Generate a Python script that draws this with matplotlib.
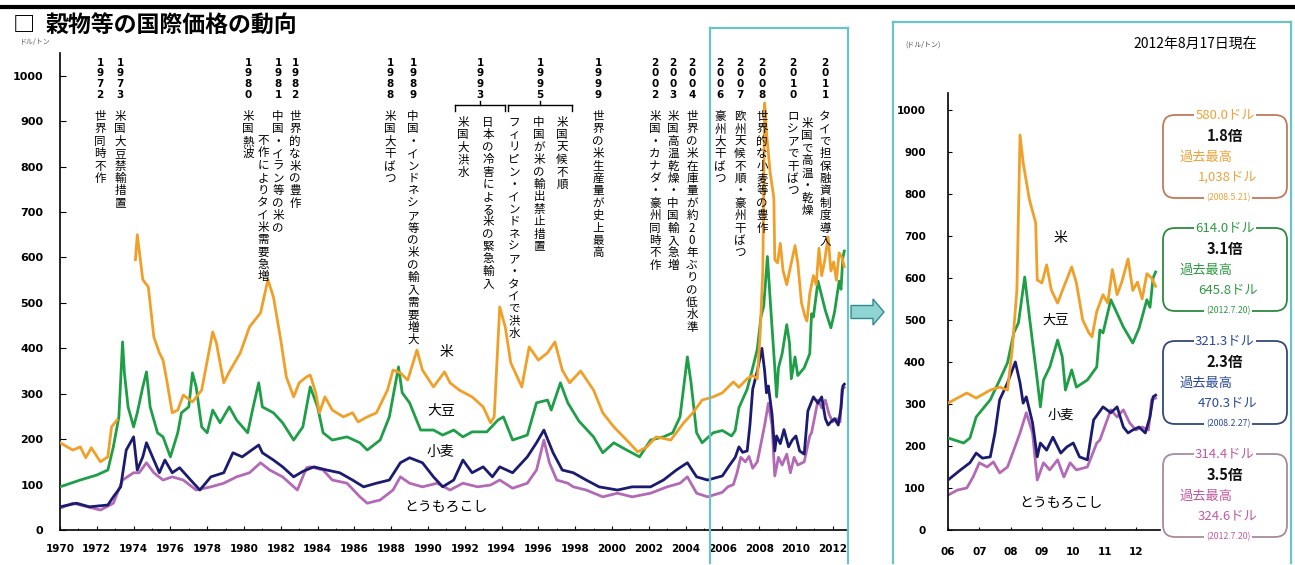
import numpy as np
import matplotlib
matplotlib.use('Agg')
import matplotlib.pyplot as plt
from matplotlib.patches import FancyBboxPatch, FancyArrow
from matplotlib.lines import Line2D
from matplotlib.transforms import IdentityTransform

plt.rcParams['font.family'] = ['Noto Sans CJK JP', 'DejaVu Sans']

# ---- data (US$/ton) ----
rice_year = [1970.0, 1970.7, 1971.1, 1971.4, 1971.7, 1972.2, 1972.6, 1972.8, 1973.1, 1973.6,
             1974.1, 1974.2, 1974.5, 1974.8, 1975.1, 1975.4, 1975.6, 1975.8, 1976.1, 1976.4,
             1976.7, 1977.2, 1977.7, 1978.3, 1978.5, 1978.9, 1979.2, 1979.8, 1980.3, 1980.9,
             1981.3, 1981.6, 1982.0, 1982.3, 1982.7, 1983.0, 1983.4, 1983.6, 1983.9, 1984.1,
             1984.4, 1984.8, 1985.4, 1985.9, 1986.2, 1986.7, 1987.2, 1987.8, 1988.1, 1988.5,
             1988.9, 1989.4, 1989.7, 1990.3, 1990.9, 1991.2, 1991.7, 1992.4, 1993.0, 1993.4,
             1993.6, 1993.9, 1994.2, 1994.5, 1995.1, 1995.5, 1996.0, 1996.5, 1996.9, 1997.3,
             1997.7, 1998.3, 1999.0, 1999.5, 2000.1, 2000.8, 2001.4, 2001.9, 2002.4, 2003.2,
             2003.9, 2004.4, 2004.9, 2005.5, 2006.0, 2006.6, 2006.9, 2007.35, 2007.65, 2007.9,
             2008.05, 2008.2, 2008.3, 2008.4, 2008.6, 2008.8, 2008.85, 2009.0, 2009.15, 2009.3,
             2009.5, 2009.7, 2009.95, 2010.1, 2010.3, 2010.5, 2010.6, 2010.75, 2010.95, 2011.1,
             2011.25, 2011.4, 2011.55, 2011.75, 2011.9, 2012.05, 2012.2, 2012.35, 2012.5, 2012.63]
rice_usd = [192, 176, 183, 159, 181, 150, 161, 227, 242, np.nan,
            595, 650, 551, 535, 425, 390, 374, 330, 258, 264,
            297, 282, 308, 436, 412, 324, 348, 390, 447, 478,
            551, 513, 418, 337, 293, 324, 337, 341, 302, 258,
            293, 264, 249, 258, 238, 249, 258, 308, 352, 346,
            330, 396, 352, 315, 348, 324, 308, 293, 271, 236,
            249, 491, 447, 368, 315, 403, 374, 390, 414, 352,
            324, 350, 308, 258, 227, 198, 172, 183, 205, 198,
            236, 258, 286, 293, 302, 326, 314, 333, 340, 333,
            429, 571, 940, 874, 786, 731, 595, 588, 631, 571,
            540, 579, 626, 588, 500, 469, 460, 520, 560, 540,
            620, 560, 590, 645, 570, 590, 550, 610, 600, 580]

soy_year = [1970.0, 1971.1, 1972.0, 1972.6, 1972.9, 1973.2, 1973.4, 1973.5, 1973.7, 1974.0,
            1974.2, 1974.5, 1974.7, 1974.9, 1975.3, 1975.6, 1976.0, 1976.4, 1976.6, 1977.0,
            1977.2, 1977.4, 1977.7, 1978.0, 1978.3, 1978.7, 1979.2, 1979.6, 1980.2, 1980.5,
            1980.8, 1981.0, 1981.6, 1982.1, 1982.7, 1983.2, 1983.6, 1984.0, 1984.3, 1984.8,
            1985.6, 1986.3, 1986.7, 1987.4, 1987.9, 1988.4, 1988.6, 1989.0, 1989.6, 1990.3,
            1990.8, 1991.4, 1991.9, 1992.4, 1993.2, 1993.8, 1994.1, 1994.6, 1995.4, 1995.9,
            1996.5, 1996.7, 1997.2, 1997.6, 1998.2, 1999.0, 1999.5, 2000.1, 2000.8, 2001.5,
            2002.1, 2002.8, 2003.3, 2003.7, 2004.1, 2004.3, 2004.6, 2004.9, 2005.5, 2006.0,
            2006.5, 2006.7, 2006.9, 2007.35, 2007.65, 2007.9, 2008.1, 2008.25, 2008.45, 2008.6,
            2008.85, 2008.95, 2009.05, 2009.25, 2009.5, 2009.65, 2009.75, 2009.95, 2010.1, 2010.45,
            2010.75, 2010.85, 2010.95, 2011.2, 2011.6, 2011.9, 2012.1, 2012.35, 2012.45, 2012.55,
            2012.63]
soy_usd = [95, 110, 121, 132, 183, 249, 414, 346, 271, 227,
           258, 315, 348, 271, 214, 205, 161, 214, 258, 271,
           346, 315, 227, 214, 264, 236, 271, 242, 214, 271,
           324, 271, 258, 236, 198, 227, 315, 271, 214, 198,
           205, 192, 176, 198, 249, 359, 302, 280, 220, 220,
           209, 220, 205, 216, 216, 242, 249, 198, 209, 280,
           286, 264, 324, 280, 240, 205, 170, 192, 176, 161,
           198, 205, 214, 249, 381, 324, 214, 192, 214, 219,
           207, 219, 269, 310, 357, 398, 469, 493, 602, 507,
           357, 293, 357, 388, 452, 412, 333, 381, 340, 357,
           388, 476, 469, 548, 483, 445, 480, 548, 530, 600,
           614]

wheat_year = [1970.0, 1970.9, 1971.6, 1972.6, 1972.9, 1973.3, 1973.6, 1974.0, 1974.2, 1974.5,
              1974.7, 1975.1, 1975.4, 1975.7, 1976.1, 1976.5, 1977.1, 1977.6, 1978.2, 1978.9,
              1979.4, 1979.9, 1980.8, 1981.0, 1981.6, 1982.1, 1982.7, 1983.2, 1983.8, 1984.5,
              1985.2, 1985.9, 1986.5, 1987.2, 1987.9, 1988.5, 1989.0, 1989.7, 1990.3, 1990.8,
              1991.4, 1991.9, 1992.4, 1993.0, 1993.5, 1993.9, 1994.6, 1995.4, 1995.9, 1996.3,
              1996.8, 1997.3, 1997.9, 1998.6, 1999.3, 2000.3, 2001.1, 2002.1, 2002.8, 2003.5,
              2004.1, 2004.6, 2005.2, 2006.0, 2006.4, 2006.7, 2006.9, 2007.1, 2007.35, 2007.5,
              2007.65, 2007.9, 2008.15, 2008.3, 2008.4, 2008.5, 2008.7, 2008.85, 2008.95, 2009.15,
              2009.35, 2009.6, 2009.8, 2010.0, 2010.2, 2010.45, 2010.65, 2010.95, 2011.2, 2011.4,
              2011.6, 2011.75, 2011.9, 2012.1, 2012.3, 2012.45, 2012.55, 2012.63]
wheat_usd = [51, 59, 51, 55, 73, 95, 176, 205, 132, 161,
             192, 154, 126, 154, 126, 137, 110, 88, 117, 126,
             170, 161, 187, 170, 154, 139, 117, 129, 139, 132,
             126, 110, 95, 103, 110, 148, 159, 148, 117, 95,
             110, 154, 126, 139, 117, 139, 126, 161, 192, 220,
             170, 132, 126, 110, 95, 88, 95, 95, 110, 132,
             148, 117, 110, 119, 143, 160, 183, 171, 174, 231,
             310, 350, 400, 350, 302, 317, 255, 174, 207, 190,
             221, 183, 198, 207, 174, 167, 262, 293, 279, 293,
             245, 231, 238, 245, 231, 269, 317, 321]

corn_year = [1970.0, 1970.7, 1971.5, 1972.2, 1972.9, 1973.4, 1974.0, 1974.3, 1974.7, 1975.1,
             1975.6, 1976.1, 1976.7, 1977.4, 1978.2, 1978.9, 1979.6, 1980.3, 1980.9, 1981.4,
             1982.1, 1982.9, 1983.4, 1983.6, 1984.3, 1984.8, 1985.6, 1986.3, 1986.7, 1987.4,
             1988.1, 1988.5, 1989.0, 1989.7, 1990.5, 1991.2, 1991.9, 1992.7, 1993.4, 1993.9,
             1994.6, 1995.4, 1995.9, 1996.3, 1996.6, 1997.0, 1997.6, 1997.9, 1998.6, 1999.5,
             2000.3, 2001.1, 2002.1, 2003.0, 2003.7, 2004.1, 2004.6, 2005.2, 2006.0, 2006.3,
             2006.6, 2006.8, 2007.0, 2007.25, 2007.45, 2007.65, 2007.9, 2008.1, 2008.3, 2008.5,
             2008.7, 2008.85, 2009.05, 2009.25, 2009.5, 2009.7, 2009.9, 2010.1, 2010.45, 2010.75,
             2010.85, 2011.2, 2011.4, 2011.6, 2011.8, 2012.0, 2012.2, 2012.4, 2012.5, 2012.63]
corn_usd = [48, 59, 51, 44, 59, 110, 126, 126, 148, 126,
            110, 117, 110, 88, 95, 103, 117, 126, 148, 132,
            117, 88, 137, 139, 132, 110, 103, 73, 59, 66,
            88, 117, 103, 95, 103, 88, 103, 95, 99, 110,
            92, 103, 132, 198, 148, 110, 103, 95, 88, 73,
            81, 73, 81, 95, 103, 117, 81, 73, 83, 95,
            100, 126, 160, 150, 162, 136, 150, 190, 231, 279,
            231, 119, 160, 143, 167, 126, 160, 143, 150, 207,
            214, 286, 269, 286, 255, 238, 245, 238, 310, 314]

year_ticks = list(range(1970, 2013, 2))
zoom_ticks = list(range(2006, 2013))
zoom_tick_labels = ['06', '07', '08', '09', '10', '11', '12']
value_ticks = list(range(0, 1001, 100))

# summary boxes (right side), one per crop: rice, soybean, wheat, corn
box_price = ['580.0ドル', '614.0ドル', '321.3ドル', '314.4ドル']
box_ratio = ['1.8倍', '3.1倍', '2.3倍', '3.5倍']
box_record = ['1,038ドル', '645.8ドル', '470.3ドル', '324.6ドル']
box_date = ['(2008.5.21)', '(2012.7.20)', '(2008.2.27)', '(2012.7.20)']

# event notes: (x px, year, text, first char y px)
events = [
    (100, '1972', '世界同時不作', 110),
    (120, '1973', '米国大豆禁輸措置', 110),
    (248, '1980', '米国熱波', 110),
    (278, '1981', '中国・イラン等の米の', 110),
    (263, '', '不作によりタイ米需要急増', 134),
    (295, '1982', '世界的な米の豊作', 110),
    (390, '1988', '米国大干ばつ', 110),
    (413, '1989', '中国・インドネシア等の米の輸入需要増大', 110),
    (480, '1993', '', 0),
    (463, '', '米国大洪水', 116),
    (488, '', '日本の冷害による米の緊急輸入', 116),
    (540, '1995', '', 0),
    (514, '', 'フィリピン・インドネシア・タイで洪水', 116),
    (539, '', '中国が米の輸出禁止措置', 116),
    (562, '', '米国天候不順', 116),
    (598, '1999', '世界の米生産量が史上最高', 110),
    (655, '2002', '米国・カナダ・豪州同時不作', 110),
    (673, '2003', '米国高温乾燥・中国輸入急増', 110),
    (692, '2004', '世界の米在庫量が約20年ぶりの低水準', 110),
    (720, '2006', '豪州大干ばつ', 110),
    (740, '2007', '欧州天候不順・豪州干ばつ', 110),
    (762, '2008', '世界的な小麦等の豊作', 110),
    (793, '2010', 'ロシアで干ばつ', 110),
    (825, '2011', 'タイで担保融資制度導入', 110),
    (807, '', '米国で高温・乾燥', 117),
]

RICE = '#f0a028'
SOY = '#1f9e48'
WHEAT = '#1b1b70'
CORN = '#b36ab6'
TEAL = '#6cc3c3'

W, H = 1295, 565


def fx(x):
    return x / W


def fy(y):
    return 1 - y / H


fig = plt.figure(figsize=(W / 100, H / 100), dpi=100)


def vtext(x, y0, s, step, **kw):
    # vertical writing: one character per row
    for i, ch in enumerate(s):
        fig.text(fx(x), fy(y0 + i * step), ch, ha='center', va='top', **kw)


def seg(x0, x1, y0, y1, **kw):
    fig.add_artist(Line2D([fx(x0), fx(x1)], [fy(y0), fy(y1)],
                          transform=fig.transFigure, **kw))


def draw_series(ax):
    ax.plot(corn_year, corn_usd, color=CORN, lw=2.0, zorder=2)
    ax.plot(wheat_year, wheat_usd, color=WHEAT, lw=2.0, zorder=3)
    ax.plot(soy_year, soy_usd, color=SOY, lw=2.0, zorder=4)
    ax.plot(rice_year, rice_usd, color=RICE, lw=2.0, zorder=5)


def style_axes(ax):
    for s in ['top', 'right']:
        ax.spines[s].set_visible(False)
    for s in ['left', 'bottom']:
        ax.spines[s].set_linewidth(1.2)
    ax.set_facecolor('none')


# ---- left: long-term chart ----
ax1 = fig.add_axes([fx(60), fy(530), fx(848) - fx(60), fy(53) - fy(530)])
draw_series(ax1)
ax1.set_xlim(1970, 2012.83)
ax1.set_ylim(0, 1050)
ax1.set_xticks(year_ticks)
ax1.set_xticklabels([str(y) for y in year_ticks], fontsize=7.5, fontweight='bold',
                    family='DejaVu Sans')
ax1.set_xticks(list(range(1970, 2013)), minor=True)
ax1.set_yticks(value_ticks)
ax1.set_yticklabels([str(v) for v in value_ticks], fontsize=8, fontweight='bold',
                    family='DejaVu Sans')
ax1.tick_params(axis='x', which='major', direction='in', length=3, pad=10)
ax1.tick_params(axis='x', which='minor', direction='in', length=1.5)
ax1.tick_params(axis='y', direction='in', length=4, pad=12)
style_axes(ax1)

ax1.text(1991.0, 392, '米', fontsize=10, ha='center', va='center')
ax1.text(1990.7, 264, '大豆', fontsize=10, ha='center', va='center')
ax1.text(1990.7, 172, '小麦', fontsize=10, ha='center', va='center')
ax1.text(1991.0, 51, 'とうもろこし', fontsize=10, ha='center', va='center')

# ---- right: zoom on 2006-2012 ----
ax2 = fig.add_axes([fx(948), fy(530), fx(1160) - fx(948), fy(93) - fy(530)])
draw_series(ax2)
ax2.set_xlim(2006, 2012.77)
ax2.set_ylim(0, 1040)
ax2.set_xticks(zoom_ticks)
ax2.set_xticklabels(zoom_tick_labels, fontsize=7.5, fontweight='bold', family='DejaVu Sans')
ax2.set_yticks(value_ticks)
ax2.set_yticklabels([str(v) for v in value_ticks], fontsize=7.5, fontweight='bold',
                    family='DejaVu Sans')
ax2.tick_params(axis='x', direction='in', length=2, pad=12)
ax2.tick_params(axis='y', direction='in', length=3, pad=16)
style_axes(ax2)
ax2.text(2009.6, 695, '米', fontsize=10, ha='center', va='center')
ax2.text(2009.45, 500, '大豆', fontsize=9.5, ha='center', va='center')
ax2.text(2009.6, 274, '小麦', fontsize=9.5, ha='center', va='center')
ax2.text(2009.6, 64, 'とうもろこし', fontsize=10, ha='center', va='center')

# ---- frame decoration ----
seg(0, 1295, 7, 7, color='black', lw=3)
fig.text(fx(13), fy(26), '□', fontsize=16, fontweight='bold', ha='left', va='center')
fig.text(fx(46), fy(26), '穀物等の国際価格の動向', fontsize=16.5, fontweight='bold',
         ha='left', va='center')
fig.text(fx(20), fy(42), 'ドル/トン', fontsize=5, color='#555555', ha='left', va='center')
fig.text(fx(905), fy(45), '(ドル/トン)', fontsize=5, color='#444444', ha='left', va='center')
fig.text(fx(1195), fy(44), '2012年8月17日現在', fontsize=10, ha='center', va='center')

# teal frames around the 2006-2012 window and the zoomed panel
seg(710, 710, 28, 563, color=TEAL, lw=1.6)
seg(848, 848, 28, 563, color=TEAL, lw=1.6)
seg(710, 848, 28, 28, color=TEAL, lw=1.6)
seg(893, 893, 22, 563, color=TEAL, lw=1.6)
seg(1291, 1291, 22, 563, color=TEAL, lw=1.6)
seg(893, 1291, 22, 22, color=TEAL, lw=1.6)
fig.add_artist(FancyArrow(851, H - 312, 22, 0, width=13, head_width=26, head_length=11,
                          length_includes_head=False, transform=IdentityTransform(),
                          facecolor='#8fd3d3', edgecolor='#2f8c8c', lw=1.0))

# event notes, written vertically
for x, yr, txt, y0 in events:
    if yr:
        vtext(x, 58, yr, 10.5, fontsize=7.5, fontweight='bold', family='DejaVu Sans')
    if txt:
        vtext(x, y0, txt, 12.4, fontsize=8.3)

# braces under 1993 and 1995
for xa, xm, xb in [(455, 480, 505), (508, 540, 572)]:
    seg(xa, xb, 105, 105, color='black', lw=1.0)
    seg(xa, xa, 105, 111, color='black', lw=1.0)
    seg(xb, xb, 105, 111, color='black', lw=1.0)
    seg(xm, xm, 101, 105, color='black', lw=1.0)

# summary boxes
box_edge = ['#c27a5c', '#2e8a3e', '#34467e', '#a88aa0']
box_text = ['#eca23a', '#2e9a44', '#2b4a98', '#c15a9e']
for i in range(4):
    top = 115 + 113 * i
    bot = top + 83
    fig.add_artist(FancyBboxPatch((1163, H - bot), 124, bot - top,
                                  boxstyle='round,pad=0,rounding_size=12',
                                  transform=IdentityTransform(), fill=False,
                                  ec=box_edge[i], lw=1.3))
    wb = dict(facecolor='white', edgecolor='none', pad=1.0)
    fig.text(fx(1225), fy(top), box_price[i], fontsize=9.5, color=box_text[i],
             ha='center', va='center', bbox=wb)
    fig.text(fx(1225), fy(top + 21), box_ratio[i], fontsize=10.5, fontweight='bold',
             color='#111111', ha='center', va='center')
    fig.text(fx(1180), fy(top + 42), '過去最高', fontsize=9.5, color=box_text[i],
             ha='left', va='center')
    fig.text(fx(1228), fy(top + 62), box_record[i], fontsize=9.5, color=box_text[i],
             ha='center', va='center')
    fig.text(fx(1228), fy(bot), box_date[i], fontsize=6.3, color=box_text[i],
             ha='center', va='center', bbox=wb)

fig.savefig('out.png', dpi=100)
